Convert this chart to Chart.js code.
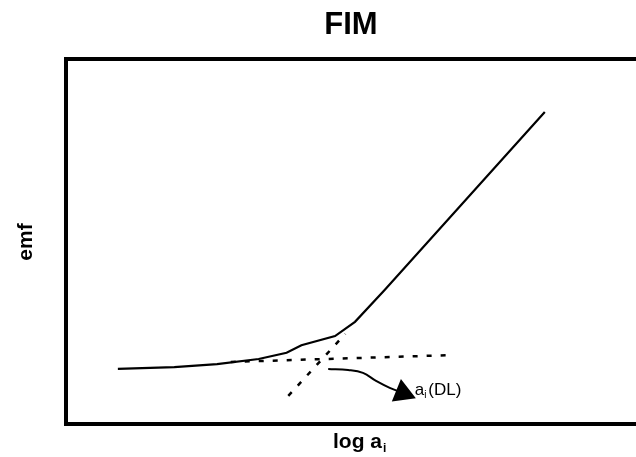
<!DOCTYPE html>
<html>
<head>
<meta charset="utf-8">
<script src="https://cdn.jsdelivr.net/npm/chart.js@4"></script>
<style>
  body { margin: 0; background: #fff; overflow: hidden; }
  canvas { display: block; }
</style>
</head>
<body>
<canvas id="grafico" width="650" height="457"></canvas>
<script>
// curve values (x = log a, y = emf, arbitrary units 0..10)
const curva_x = [0.91, 1.90, 2.65, 3.38, 3.87, 4.13, 4.72, 5.07, 5.59, 8.40]
const curva_y = [1.51, 1.56, 1.64, 1.78, 1.95, 2.16, 2.41, 2.80, 3.67, 8.55]

// extrapolated lines (dashed)
const base_x = [2.89, 6.80]
const base_y = [1.70, 1.89]
const subida_x = [3.90, 4.90]
const subida_y = [0.77, 2.47]

// arrow pointing to the detection limit
const seta_x = [4.60, 4.95, 5.21, 5.44, 5.68, 5.91]
const seta_y = [1.51, 1.48, 1.40, 1.18, 0.99, 0.85]

const titulo = 'FIM'
const rotulo_y = 'emf'
const rotulo_x = 'log a'
const rotulo_nota = '(DL)'

const pontos = (xs, ys) => xs.map((x, i) => ({ x: x, y: ys[i] }))

// frame (right side is off the page) + texts
const desenho = {
  id: 'desenho',
  afterDraw(chart) {
    const ctx = chart.ctx
    const a = chart.chartArea
    const sx = chart.scales.x
    const sy = chart.scales.y
    ctx.save()
    ctx.strokeStyle = '#000'
    ctx.lineWidth = 4
    ctx.beginPath()
    ctx.moveTo(chart.width, a.top)
    ctx.lineTo(a.left, a.top)
    ctx.lineTo(a.left, a.bottom)
    ctx.lineTo(chart.width, a.bottom)
    ctx.stroke()

    ctx.fillStyle = '#000'
    ctx.textBaseline = 'middle'
    ctx.textAlign = 'center'
    ctx.font = 'bold 31px "Liberation Sans", Arial, sans-serif'
    ctx.fillText(titulo, 351, 25)

    ctx.save()
    ctx.translate(26, 242)
    ctx.rotate(-Math.PI / 2)
    ctx.font = 'bold 21px "Liberation Sans", Arial, sans-serif'
    ctx.fillText(rotulo_y, 0, 0)
    ctx.restore()

    ctx.textAlign = 'left'
    ctx.font = 'bold 21px "Liberation Sans", Arial, sans-serif'
    ctx.fillText(rotulo_x, 333, 442)
    const w = ctx.measureText(rotulo_x).width
    ctx.font = 'bold 12px "Liberation Sans", Arial, sans-serif'
    ctx.fillText('i', 333 + w + 1, 449)

    // annotation a_i(DL)
    ctx.font = '17px "Liberation Sans", Arial, sans-serif'
    const nx = sx.getPixelForValue(6.12)
    const ny = sy.getPixelForValue(0.93)
    ctx.fillText('a', nx, ny)
    const wa = ctx.measureText('a').width
    ctx.font = '10px "Liberation Sans", Arial, sans-serif'
    ctx.fillText('i', nx + wa, ny + 5)
    ctx.font = '17px "Liberation Sans", Arial, sans-serif'
    ctx.fillText(rotulo_nota, nx + wa + 4, ny)
    ctx.restore()
  }
}

const ctx = document.getElementById('grafico')

const config = {
  type: 'scatter',
  data: {
    datasets: [
      {
        data: pontos(curva_x, curva_y),
        showLine: true,
        borderColor: '#000',
        borderWidth: 2.2,
        pointRadius: 0,
        tension: 0
      },
      {
        data: pontos(base_x, base_y),
        showLine: true,
        borderColor: '#000',
        borderWidth: 2.5,
        borderDash: [5, 9],
        pointRadius: 0
      },
      {
        data: pontos(subida_x, subida_y),
        showLine: true,
        borderColor: '#000',
        borderWidth: 2.5,
        borderDash: [5, 9],
        pointRadius: 0
      },
      {
        data: pontos(seta_x, seta_y),
        showLine: true,
        borderColor: '#000',
        backgroundColor: '#000',
        borderWidth: 2,
        tension: 0.4,
        pointRadius: seta_x.map((v, i) => i === seta_x.length - 1 ? 12 : 0),
        pointStyle: 'triangle',
        rotation: 112
      }
    ]
  },
  options: {
    responsive: false,
    animation: false,
    layout: { padding: { left: 66, top: 59, right: 10, bottom: 33 } },
    plugins: {
      legend: { display: false },
      tooltip: { enabled: false },
      title: { display: false }
    },
    scales: {
      x: { type: 'linear', min: 0, max: 10, display: false },
      y: { type: 'linear', min: 0, max: 10, display: false }
    }
  },
  plugins: [desenho]
}

const graph = new Chart(ctx, config)
</script>
</body>
</html>
